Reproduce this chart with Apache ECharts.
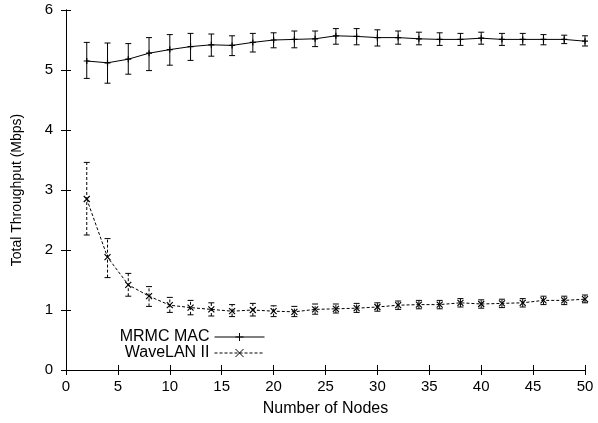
<!DOCTYPE html>
<html>
<head>
<meta charset="utf-8">
<script src="https://cdn.jsdelivr.net/npm/echarts@6/dist/echarts.min.js"></script>
<style>
  html, body { margin: 0; padding: 0; background: #fff; }
  #chart { width: 598px; height: 423px; }
</style>
</head>
<body>
<div id="chart"></div>
<script>
const nodes = [2, 4, 6, 8, 10, 12, 14, 16, 18, 20, 22, 24, 26, 28, 30, 32, 34, 36, 38, 40, 42, 44, 46, 48, 50];

const mrmc     = [5.15, 5.12, 5.18, 5.28, 5.34, 5.39, 5.42, 5.41, 5.46, 5.50, 5.51, 5.52, 5.57, 5.56, 5.54, 5.54, 5.52, 5.51, 5.51, 5.53, 5.51, 5.51, 5.51, 5.51, 5.48];
const mrmcLow  = [4.86, 4.78, 4.93, 4.99, 5.08, 5.16, 5.23, 5.24, 5.30, 5.37, 5.37, 5.39, 5.43, 5.42, 5.40, 5.43, 5.42, 5.41, 5.41, 5.43, 5.41, 5.42, 5.42, 5.44, 5.40];
const mrmcHigh = [5.46, 5.45, 5.44, 5.54, 5.59, 5.61, 5.60, 5.57, 5.61, 5.62, 5.65, 5.65, 5.69, 5.69, 5.67, 5.65, 5.63, 5.62, 5.61, 5.63, 5.61, 5.61, 5.59, 5.58, 5.57];

const wave     = [2.85, 1.88, 1.42, 1.23, 1.08, 1.04, 1.01, 0.98, 1.00, 0.98, 0.97, 1.01, 1.02, 1.03, 1.05, 1.08, 1.09, 1.09, 1.12, 1.10, 1.11, 1.12, 1.16, 1.16, 1.18];
const waveLow  = [2.25, 1.54, 1.23, 1.06, 0.96, 0.92, 0.90, 0.89, 0.90, 0.89, 0.89, 0.93, 0.95, 0.96, 0.98, 1.01, 1.02, 1.02, 1.05, 1.03, 1.04, 1.05, 1.09, 1.09, 1.12];
const waveHigh = [3.46, 2.19, 1.61, 1.39, 1.21, 1.16, 1.12, 1.09, 1.11, 1.07, 1.06, 1.10, 1.10, 1.11, 1.12, 1.15, 1.16, 1.16, 1.19, 1.17, 1.18, 1.19, 1.23, 1.23, 1.25];

const font = 'Liberation Sans, Arial, sans-serif';
const chart = echarts.init(document.getElementById('chart'));

// vertical bar with caps, drawn through the axis scales
function errorBars(dashed) {
  return function (params, api) {
    const x = api.value(0);
    const lo = api.coord([x, api.value(1)]);
    const hi = api.coord([x, api.value(2)]);
    const cap = 3;
    const capStyle = { stroke: '#000', lineWidth: 1 };
    return {
      type: 'group',
      children: [
        { type: 'line', shape: { x1: lo[0], y1: lo[1], x2: hi[0], y2: hi[1] },
          style: { stroke: '#000', lineWidth: 1, lineDash: dashed ? [3, 2] : null } },
        { type: 'line', shape: { x1: lo[0] - cap, y1: lo[1], x2: lo[0] + cap, y2: lo[1] }, style: capStyle },
        { type: 'line', shape: { x1: hi[0] - cap, y1: hi[1], x2: hi[0] + cap, y2: hi[1] }, style: capStyle }
      ]
    };
  };
}

const plusIcon = 'path://M0,5L10,5M5,0L5,10';
const crossIcon = 'path://M0,0L10,10M10,0L0,10';

const tickStyle = { inside: true, length: 5, lineStyle: { color: '#000' } };

// one legend per row so both keys line up on the right
function legendRow(name, top) {
  return {
    orient: 'vertical',
    align: 'right',
    right: 333,
    top: top,
    padding: 0,
    itemWidth: 50,
    itemHeight: 10,
    lineStyle: { width: 1 },
    itemStyle: { borderWidth: 1 },
    textStyle: { fontFamily: font, fontSize: 16, color: '#000' },
    data: [name]
  };
}

const option = {
  backgroundColor: '#fff',
  animation: false,
  textStyle: { fontFamily: font, color: '#000' },
  grid: { left: 66, right: 13, top: 10, bottom: 53 },
  legend: [legendRow('MRMC MAC', 329), legendRow('WaveLAN II', 345)],
  xAxis: [{
    type: 'value', min: 0, max: 50, interval: 5,
    name: 'Number of Nodes', nameLocation: 'middle', nameGap: 31,
    nameTextStyle: { fontFamily: font, fontSize: 16, color: '#000' },
    axisLine: { lineStyle: { color: '#000', width: 1 } },
    axisTick: tickStyle,
    axisLabel: { fontFamily: font, fontSize: 15, color: '#000', margin: 9 },
    splitLine: { show: false }
  }, {
    type: 'value', min: 0, max: 50, interval: 5, position: 'top',
    axisLine: { show: true, lineStyle: { color: '#000', width: 1 } },
    axisTick: tickStyle,
    axisLabel: { show: false },
    splitLine: { show: false }
  }],
  yAxis: [{
    type: 'value', min: 0, max: 6, interval: 1,
    name: 'Total Throughput (Mbps)', nameLocation: 'middle', nameGap: 42,
    nameTextStyle: { fontFamily: font, fontSize: 14, color: '#000' },
    axisLine: { show: true, lineStyle: { color: '#000', width: 1 } },
    axisTick: Object.assign({ show: true }, tickStyle),
    axisLabel: { fontFamily: font, fontSize: 15, color: '#000', margin: 13 },
    splitLine: { show: false }
  }, {
    type: 'value', min: 0, max: 6, interval: 1, position: 'right',
    axisLine: { show: true, lineStyle: { color: '#000', width: 1 } },
    axisTick: Object.assign({ show: true }, tickStyle),
    axisLabel: { show: false },
    splitLine: { show: false }
  }],
  series: [
    {
      name: 'MRMC MAC', type: 'line',
      data: nodes.map((n, i) => [n, mrmc[i]]),
      symbol: plusIcon, symbolSize: 6, showSymbol: true,
      lineStyle: { color: '#000', width: 1 },
      itemStyle: { color: '#000', borderColor: '#000', borderWidth: 1.2 },
      z: 3
    },
    {
      name: 'WaveLAN II', type: 'line',
      data: nodes.map((n, i) => [n, wave[i]]),
      symbol: crossIcon, symbolSize: 6, showSymbol: true,
      lineStyle: { color: '#000', width: 1, type: [3, 2] },
      itemStyle: { color: '#000', borderColor: '#000', borderWidth: 1.2 },
      z: 3
    },
    {
      type: 'custom', name: 'mrmcErr',
      renderItem: errorBars(false),
      encode: { x: 0, y: [1, 2] },
      data: nodes.map((n, i) => [n, mrmcLow[i], mrmcHigh[i]]),
      z: 2
    },
    {
      type: 'custom', name: 'waveErr',
      renderItem: errorBars(true),
      encode: { x: 0, y: [1, 2] },
      data: nodes.map((n, i) => [n, waveLow[i], waveHigh[i]]),
      z: 2
    }
  ]
};

chart.setOption(option);
</script>
</body>
</html>
